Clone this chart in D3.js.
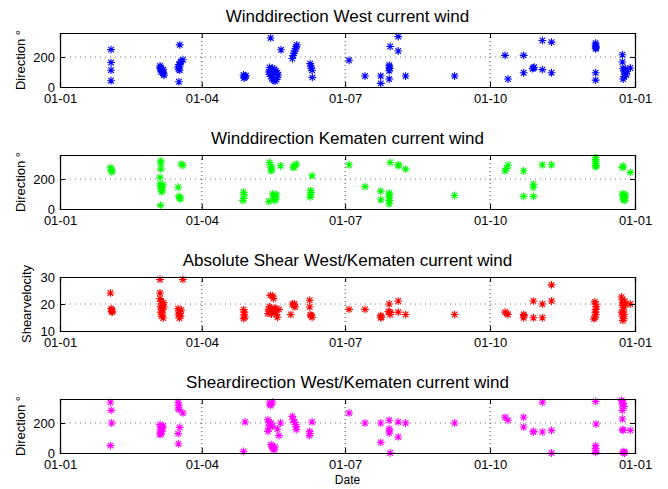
<!DOCTYPE html>
<html>
<head>
<meta charset="utf-8">
<script src="https://cdn.jsdelivr.net/npm/d3@7"></script>
<style>
  body { margin: 0; background: #fff; }
  text { font-family: "Liberation Sans", Arial, sans-serif; fill: #000; }
</style>
</head>
<body>
<div id="chart"></div>
<script>
// day of year (0 = 1 Jan) and value
var westDir = [
  [32.4,249],[32.4,163],[32.4,112],[32.4,42],
  [63.5,140],[63.8,130],[64,120],[64.5,112],[65,105],[65.3,95],[65.8,88],[66,78],[64.2,100],[63.7,125],[65.5,115],
  [76,281],[78,182],[76.5,165],[75.5,150],[75,134],[75.3,120],[76,112],[75.5,35],[77,170],[76,140],
  [116.5,80],[117,72],[117.5,66],[116.8,60],[118,75],
  [133,130],[133.5,115],[132.5,100],[133,85],[134,70],[134.5,55],[135.5,45],[136.5,40],[137.5,50],[138,65],
  [138.5,80],[138,95],[137,108],[136,118],[134.8,125],[135.5,90],[133.7,327],[140.3,248],
  [147.5,190],[148,210],[148.5,225],[149,240],[149.5,255],[150,268],[150.3,280],
  [158.8,156],[159.2,140],[159.5,125],[160,112],[160.2,64],
  [183.5,178],[193.6,73],[203.6,73],[203.6,24],
  [209,145],[209,133],[209.3,123],[209,108],[209,53],[209.6,270],[214.7,336],[214.7,240],[219.4,73],
  [250.5,73],[282.5,211],[284.4,53],[294.3,211],[294.3,95],[300.5,127],[300,122],[301,132],
  [306.2,310],[306.2,116],[312,299],[312,95],
  [340,292],[340,280],[340,270],[340.3,262],[340,255],[340,95],[340,46],
  [357,215],[357,167],[357.5,123],[358,112],[358.5,100],[359,90],[359.5,80],[358,68],[357.5,53],[360,105],[359,120],[362,127]
];
var kematenDir = [
  [32,275],[32.5,265],[33,255],[32.8,248],
  [64,321],[64,300],[64,266],[63.5,211],[63.5,167],[64,155],[64.5,145],[64,135],[65,125],[64.5,115],[65.5,160],[63.8,24],
  [75,145],[75.5,84],[76,75],[76.5,68],[77,299],[78,290],
  [116.5,112],[117,95],[116.5,70],[116,57],
  [133,310],[133.5,295],[134,280],[134.5,265],[134,255],[132.5,50],
  [135,101],[136,90],[136.5,80],[135.5,70],[137,65],[136,57],[137.5,95],[140,288],
  [148,280],[149,290],[150,299],[148.5,277],
  [160,222],[159,123],[159.5,110],[159,95],[158.8,79],
  [183.5,295],[193.6,149],[203.6,119],[203.6,62],
  [209,105],[209,95],[209,79],[209,57],[209,35],[209.6,310],[214.7,295],[215,288],[219.4,266],
  [250.5,90],[282.5,255],[284.4,292],[283.5,270],[294.3,255],[294.3,84],[300.5,145],[300.5,165],[300.5,84],
  [306.2,295],[312,295],
  [340,343],[340,330],[340,318],[340,305],[340.3,290],[340,281],
  [357,277],[357.5,285],[362,244],[357,101],[357.5,92],[358,84],[358.5,75],[357.5,68],[358,62],[358.5,57],[359,95]
];
var shearSpeed = [
  [32,24.1],[32.5,18.3],[33,17.8],[32.8,17.2],[33.2,17],
  [63.5,29.1],[63.5,24.1],[63.5,22],[64,21],[64.5,20],[63.8,19],[64.8,18.5],[65.2,17.8],[64,17],[65,16.3],
  [64.5,15.5],[65.5,14.8],[65.7,20.5],[66,19],
  [75,18.3],[75.5,17.5],[76,16.5],[75.2,16],[76.5,15.5],[75.8,14.8],[77,17.8],[78,29.1],
  [116.5,17.9],[117,17],[116.8,16],[117.3,15.2],[116.6,14.6],
  [132,16.5],[132.5,18],[133,19],[133.5,23.2],[135,23],[135.5,22],[133.5,17.5],[134.2,16.3],[135,17.8],
  [136,18.5],[136.5,17],[137.5,16.1],[138,15.1],[139,18],[137,18.2],
  [146.5,16.1],[147.5,20],[148.5,19.5],[149.2,18.9],[148.8,20],
  [158.5,21.4],[158.5,18.9],[159.5,15.7],[160,15.1],[159,16],
  [183.5,18],[193.6,18],[203.6,15.7],[203.6,14.9],[204,15.2],
  [209,20],[209,17],[209.5,16.1],[208.5,17.2],[209.8,16.8],[214.7,21.1],[214.7,17],[219.4,16.1],
  [250.5,16.1],[282.5,17],[283.5,16.5],[284.4,16.1],[294.3,16.1],[294.3,14.9],[294.5,15.7],
  [300.5,21.1],[300.5,14.9],[306.2,20],[306.2,14.9],[312,27.1],[312,21.1],
  [339.5,20.8],[340,20],[340.5,19],[340,18],[339.8,17],[340.2,16],[339.5,15.2],[339,14.5],
  [356.5,22.6],[357,21.5],[357.5,20.5],[357,19.5],[358,18.8],[357.5,17.8],[356.5,17],[358.2,16.2],
  [357,15.5],[357.8,14.6],[357.3,13.9],[358.5,21],[359,20],[362,20]
];
var shearDir = [
  [32,338],[32.5,284],[32.8,200],[32,49],
  [63.5,189],[64,175],[64.5,165],[63.8,155],[64.8,145],[63.5,140],[64.2,132],[63.5,122],[65.5,180],[65,170],
  [75,338],[75.5,320],[75.2,300],[75.6,289],[75,129],[75.2,62],[76,171],[78,267],
  [116.5,11],[117.5,207],
  [132,222],[132.5,205],[133,185],[132.5,165],[132,144],[134,200],[135,180],[133,333],[134,325],[133.5,316],[135,340],
  [134,56],[134.5,45],[135,35],[135.5,28],[136,22],[136.5,40],
  [140,200],[139,116],[138,160],
  [147.5,244],[148,222],[149,205],[149.5,190],[150,175],[150,156],
  [158.5,144],[158.7,130],[158.3,116],[160,207],
  [183.5,267],[193.6,200],[203.6,200],[203.6,71],
  [209,218],[209,160],[209.2,148],[209,133],[209.6,0],[214.7,207],[214.7,107],[219.4,200],
  [250.5,200],[282.5,238],[284.4,218],[294.3,238],[294.3,173],[300.5,144],[300.5,140],
  [306.2,338],[306.2,140],[312,151],[312,0],
  [340,344],[340,49],[340,30],[340,15],[340,4],[340.3,193],
  [356.5,351],[357,340],[357.5,330],[357,320],[358,311],[357,284],[357,227],[357,156],[357.5,152],
  [358,11],[357.5,4],[358.3,0],[362,151]
];

var titles = [
  "Winddirection West current wind",
  "Winddirection Kematen current wind",
  "Absolute Shear West/Kematen current wind",
  "Sheardirection West/Kematen current wind"
];
var yLabels = ["Direction °", "Direction °", "Shearvelocity", "Direction °"];
var yDomains = [[0, 360], [0, 360], [10, 30], [0, 360]];
var yTicks = [[0, 200], [0, 200], [10, 20, 30], [0, 200]];
var colors = ["#0000ff", "#00ff00", "#ff0000", "#ff00ff"];
var series = [westDir, kematenDir, shearSpeed, shearDir];
var xTickDates = ["2010-01-01", "2010-04-01", "2010-07-01", "2010-10-01", "2011-01-01"];

var width = 668,
    height = 489,
    left = 60,
    right = 635,
    panelTops = [33, 155, 277, 399],
    panelH = 54;

var parse = d3.timeParse("%Y-%m-%d");
var start = parse("2010-01-01");
var toDate = function(day) { return new Date(start.getTime() + day * 864e5); };

var x = d3.scaleTime()
    .domain([start, parse("2011-01-01")])
    .range([0, right - left]);
var xTicks = xTickDates.map(parse);

var svg = d3.select("#chart").append("svg")
    .attr("width", width)
    .attr("height", height);

// matlab style asterisk marker
var r = 3.9, k = r * 0.72;
var star = "M" + (-r) + ",0L" + r + ",0M0," + (-r) + "L0," + r +
           "M" + (-k) + "," + (-k) + "L" + k + "," + k +
           "M" + (-k) + "," + k + "L" + k + "," + (-k);

series.forEach(function(data, i) {
    var y = d3.scaleLinear().domain(yDomains[i]).range([panelH, 0]);
    var g = svg.append("g").attr("transform", "translate(" + left + "," + panelTops[i] + ")");

    // grid
    g.append("g").selectAll("line")
        .data(xTicks.slice(1, -1)).enter().append("line")
        .attr("x1", function(d) { return x(d); }).attr("x2", function(d) { return x(d); })
        .attr("y1", 0).attr("y2", panelH)
        .attr("stroke", "#444").attr("stroke-dasharray", "1,3");
    g.append("g").selectAll("line")
        .data(yTicks[i].filter(function(t) { return t > yDomains[i][0] && t < yDomains[i][1]; }))
        .enter().append("line")
        .attr("x1", 0).attr("x2", right - left)
        .attr("y1", function(d) { return y(d); }).attr("y2", function(d) { return y(d); })
        .attr("stroke", "#777").attr("stroke-dasharray", "1,4");

    // markers
    g.append("g").selectAll("path")
        .data(data).enter().append("path")
        .attr("d", star)
        .attr("transform", function(d) { return "translate(" + x(toDate(d[0])) + "," + y(d[1]) + ")"; })
        .attr("fill", "none")
        .attr("stroke", colors[i])
        .attr("stroke-width", 1.1);

    // axes with inward ticks
    g.append("g").attr("transform", "translate(0," + panelH + ")")
        .call(d3.axisBottom(x).tickValues(xTicks).tickFormat(d3.timeFormat("%d-%m"))
            .tickSize(-5).tickPadding(7));
    g.append("g")
        .call(d3.axisTop(x).tickValues(xTicks).tickFormat("").tickSize(-5));
    g.append("g")
        .call(d3.axisLeft(y).tickValues(yTicks[i]).tickSize(-5).tickPadding(5));
    g.append("g").attr("transform", "translate(" + (right - left) + ",0)")
        .call(d3.axisRight(y).tickValues(yTicks[i]).tickFormat("").tickSize(-5));

    g.selectAll(".domain").attr("stroke", "#000").attr("stroke-width", 1.2);
    g.selectAll(".tick line").attr("stroke", "#000");
    g.selectAll(".tick text")
        .style("font-family", "'Liberation Sans', Arial, sans-serif")
        .style("font-size", "13px").attr("fill", "#000");

    // title and y label
    svg.append("text")
        .attr("x", (left + right) / 2)
        .attr("y", panelTops[i] - 11.5)
        .attr("text-anchor", "middle")
        .style("font-size", "17px")
        .text(titles[i]);
    svg.append("text")
        .attr("transform", "translate(" + (i === 2 ? 31 : 25) + "," + (panelTops[i] + panelH / 2) + ") rotate(-90)")
        .attr("text-anchor", "middle")
        .style("font-size", "13px")
        .text(yLabels[i]);
});

svg.append("text")
    .attr("x", (left + right) / 2)
    .attr("y", 484)
    .attr("text-anchor", "middle")
    .style("font-size", "12px")
    .text("Date");
</script>
</body>
</html>
